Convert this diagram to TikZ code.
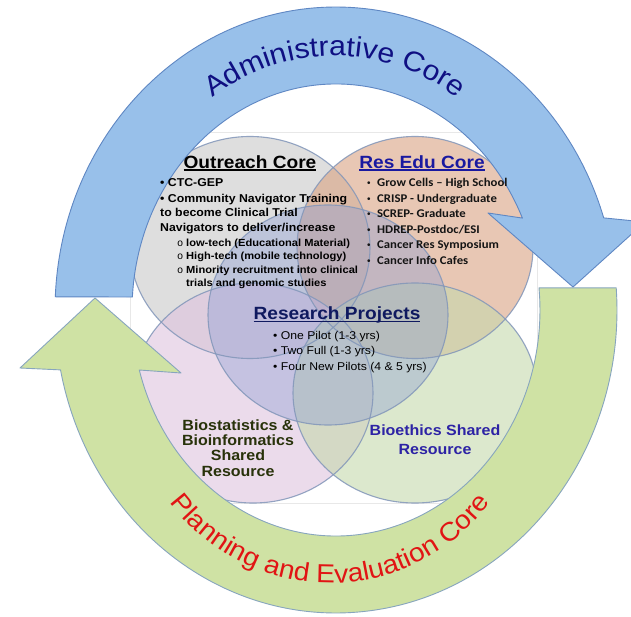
\documentclass[tikz,border=0pt]{standalone}
\usepackage{fontspec}
\usetikzlibrary{decorations.text}
\newfontfamily\arialx[FakeStretch=1.08]{Liberation Sans}
\newfontfamily\calx[FakeStretch=1.08]{Carlito}
\newfontfamily\monox{Liberation Mono}
\newfontfamily\bulx{Liberation Sans}
\definecolor{blueF}{RGB}{152,192,234}
\definecolor{blueD}{RGB}{95,135,195}
\definecolor{greenF}{RGB}{207,226,164}
\definecolor{greenD}{RGB}{135,165,190}
\definecolor{adminC}{RGB}{15,15,130}
\definecolor{planC}{RGB}{225,20,20}
\definecolor{vennE}{RGB}{130,150,185}
\definecolor{grayV}{RGB}{200,200,200}
\definecolor{peachV}{RGB}{217,163,130}
\definecolor{pinkV}{RGB}{222,195,222}
\definecolor{greenV}{RGB}{197,217,172}
\definecolor{blueV}{RGB}{140,158,212}
\definecolor{resC}{RGB}{25,25,160}
\definecolor{rpC}{RGB}{15,25,95}
\definecolor{bioC}{RGB}{40,50,10}
\definecolor{ethC}{RGB}{45,35,165}
\newsavebox\ulbox
\newcommand\ulx[1]{\sbox\ulbox{#1}\rlap{\rule[-2.6pt]{\wd\ulbox}{1.3pt}}\usebox\ulbox}
\newcommand\adminfont{\arialx\fontsize{28}{28}\selectfont}
\newcommand\planfont{\arialx\fontsize{26}{26}\selectfont}
\newcommand\rbul{\makebox[10pt][l]{\bulx\mdseries\fontsize{10}{10}\selectfont •}}
\tikzset{
  otxt/.style={anchor=base west, inner sep=0pt, font=\arialx\bfseries\fontsize{11.4}{13}\selectfont},
  osub/.style={anchor=base west, inner sep=0pt, font=\arialx\bfseries\fontsize{10.3}{12}\selectfont},
  rtxt/.style={anchor=base west, inner sep=0pt, text={rgb,255:red,20;green,20;blue,20}, font=\calx\bfseries\fontsize{11.8}{14}\selectfont},
  ptxt/.style={anchor=base west, inner sep=0pt, font=\arialx\fontsize{11.3}{13}\selectfont},
  titlebox/.style={inner sep=0pt, font=\arialx\bfseries\fontsize{17.7}{20}\selectfont},
  shared/.style={inner sep=0pt, align=center, font=\arialx\bfseries\fontsize{14.8}{15.3}\selectfont},
  vennedge/.style={draw=vennE, line width=1.1pt, draw opacity=0.85},
  bluearrow/.style={fill=blueF, draw=blueD, line width=0.9pt, line join=round},
  greenarrow/.style={fill=greenF, draw=greenD, line width=0.9pt, line join=round},
}
\begin{document}
\begin{tikzpicture}[x=1pt,y=1pt]
\useasboundingbox (0,0) rectangle (631,616);
\clip (0,0) rectangle (631,616);
\fill[white] (0,0) rectangle (631,616);
% faint backdrop
\draw[black!9, fill=white] (130,113) rectangle (537,484);
% Venn fills
\begin{scope}[fill opacity=0.6]
\fill[grayV]  (250,368.5) ellipse [x radius=120, y radius=111];
\fill[peachV] (415,368.5) ellipse [x radius=118, y radius=111];
\fill[pinkV]  (253,223) ellipse [x radius=120, y radius=110];
\fill[greenV] (415,223) ellipse [x radius=122, y radius=110];
\end{scope}
\fill[blueV, fill opacity=0.4] (328,301) ellipse [x radius=120, y radius=110];
% Venn edges
\draw[vennedge] (250,368.5) ellipse [x radius=120, y radius=111];
\draw[vennedge] (415,368.5) ellipse [x radius=118, y radius=111];
\draw[vennedge] (253,223) ellipse [x radius=120, y radius=110];
\draw[vennedge] (415,223) ellipse [x radius=122, y radius=110];
\draw[vennedge] (328,301) ellipse [x radius=120, y radius=110];
% green circular arrow (Planning and Evaluation)
\path[greenarrow] (60.5,246.1) -- (20,248) -- (95,318) -- (181,243) -- (139.3,246.0)
  arc [start angle=195.4, end angle=365.6, x radius=204, y radius=226]
  -- (616.2,328.2)
  arc [start angle=364.2, end angle=191.4, x radius=281, y radius=303] -- cycle;
% blue circular arrow (Administrative)
\path[bluearrow] (55.3,319.2)
  arc [start angle=177.5, end angle=17.7, x radius=281, y radius=303]
  -- (645,394) -- (573,329) -- (488,403) -- (522.4,397.9)
  arc [start angle=24, end angle=176.7, x radius=204, y radius=226] -- cycle;
% curved labels
\path[decorate, decoration={text along path, text align=center, text color=adminC,
  text={|\adminfont|Administrative Core}}]
  (335,360) ++(150:200) arc [start angle=150, end angle=30, radius=200];
\path[decorate, decoration={text along path, text align=center, text color=planC,
  text={|\planfont|Planning and Evaluation Core}}]
  (330,233) ++(208:200) arc [start angle=208, end angle=332, radius=200];
% Outreach Core
\node[titlebox] (outT) at (250,453) {\ulx{Outreach Core}};
\node[otxt] (o1) at (160,429) {• CTC-GEP};
\node[otxt] (o2) at (160,413) {• Community Navigator Training};
\node[otxt] (o3) at (160,399) {to become Clinical Trial};
\node[otxt] (o4) at (160,384) {Navigators to deliver/increase};
\node[osub] (o5) at (177,369) {\makebox[9pt][l]{\monox\mdseries o}low-tech (Educational Material)};
\node[osub] (o6) at (177,356) {\makebox[9pt][l]{\monox\mdseries o}High-tech (mobile technology)};
\node[osub] (o7) at (177,342) {\makebox[9pt][l]{\monox\mdseries o}Minority recruitment into clinical};
\node[osub] (o8) at (186,329) {trials and genomic studies};
% Res Edu Core
\node[titlebox, text=resC] (resT) at (422,453) {\ulx{Res Edu Core}};
\node[rtxt] (r1) at (367,429) {\rbul Grow Cells – High School};
\node[rtxt] (r2) at (367,413) {\rbul CRISP - Undergraduate};
\node[rtxt] (r3) at (367,398) {\rbul SCREP- Graduate};
\node[rtxt] (r4) at (367,382) {\rbul HDREP-Postdoc/ESI};
\node[rtxt] (r5) at (367,367) {\rbul Cancer Res Symposium};
\node[rtxt] (r6) at (367,351) {\rbul Cancer Info Cafes};
% Research Projects
\node[titlebox, text=rpC] (rpT) at (337,301) {\ulx{Research Projects}};
\node[ptxt] (p1) at (273,276) {• One Pilot (1-3 yrs)};
\node[ptxt] (p2) at (273,261) {• Two Full (1-3 yrs)};
\node[ptxt] (p3) at (273,245) {• Four New Pilots (4 \& 5 yrs)};
% Shared resources
\node[shared, text=bioC] (bio) at (238,168) {Biostatistics \&\\Bioinformatics\\Shared\\Resource};
\node[shared, text=ethC, font=\arialx\bfseries\fontsize{14.8}{19}\selectfont] (eth) at (435,176) {Bioethics Shared\\Resource};
\end{tikzpicture}
\end{document}
